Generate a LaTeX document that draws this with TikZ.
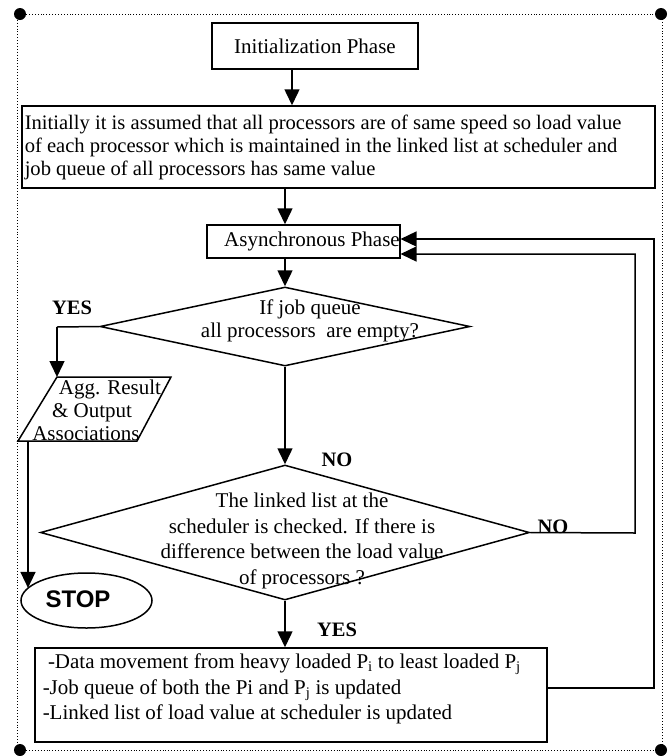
\documentclass[tikz,border=0pt]{standalone}
\usepackage{fontspec}
\setmainfont{Liberation Serif}
\newfontfamily\sansbold{Liberation Sans}
\usetikzlibrary{arrows.meta,shapes.geometric}
\begin{document}
\begin{tikzpicture}[x=1pt,y=-1pt,
  line width=1.5pt,
  arr/.style={-{Triangle[width=15pt,length=16pt]}},
  flowbox/.style={draw, rectangle, inner sep=0pt},
  maintext/.style={font=\fontsize{21}{23}\selectfont},
  lbl/.style={font=\fontsize{20.5}{23}\selectfont\bfseries, inner sep=0pt},
  decision/.style={draw, diamond, inner sep=0pt},
  framedot/.style={fill, circle, inner sep=0pt, minimum size=12pt}]
\useasboundingbox (0,0) rectangle (669,756);
% frame
\draw[line width=0.9pt, dotted] (17,14) rectangle (662,750);
\node[framedot] (d1) at (20,14) {};
\node[framedot] (d2) at (661,14) {};
\node[framedot] (d3) at (20,750) {};
\node[framedot] (d4) at (661,750) {};
% boxes
\node[flowbox, maintext, minimum width=206pt, minimum height=46pt] (init) at (315,46) {Initialization Phase};
\node[flowbox, minimum width=633pt, minimum height=82pt] (assume) at (338.5,147) {};
\node[maintext, font=\fontsize{20.6}{23}\selectfont, align=left, inner sep=0pt, anchor=west] (assumet) at (24,147)
  {Initially it is assumed that all processors are of same speed so load value\\of each processor which is maintained in the linked list at scheduler and\\job queue of all processors has same value};
\node[flowbox, maintext, minimum width=189pt, minimum height=33pt] (async) at (303.5,241.5) {\hspace*{17pt}Asynchronous Phase};
\node[decision, minimum width=370pt, minimum height=79pt] (dec1) at (285,326.5) {};
\node[maintext, align=center] (dec1t) at (310,321) {If job queue\\all processors\ \ are empty?};
% parallelogram
\coordinate (pTL) at (57,377);
\coordinate (pTR) at (171,377);
\coordinate (pBR) at (137,441);
\coordinate (pBL) at (18,441);
\draw (pTL) -- (pTR) -- (pBR) -- (pBL) -- cycle;
\coordinate (aggbot) at (28,441);
\node[maintext, align=center, inner sep=0pt] (agg) at (92,410) {\hspace*{36pt}Agg. Result\\ \& Output\\ Associations\hspace*{12pt}};
\node[draw, ellipse, minimum width=131pt, minimum height=55pt, inner sep=0pt] (stop) at (86.5,600.5) {};
\node[font=\fontsize{24}{26}\sansbold\bfseries, inner sep=0pt] (stopt) at (78,599) {STOP};
\node[decision, minimum width=489pt, minimum height=135pt] (dec2) at (285,532.5) {};
\node[maintext, align=center, font=\fontsize{21}{25.8}\selectfont] (dec2t) at (302,541) {The linked list at the\\scheduler is checked. If there is\\difference between the load value\\of processors ?};
\node[flowbox, minimum width=512pt, minimum height=94pt] (move) at (291,695) {};
\node[align=left, inner sep=0pt, anchor=west, font=\fontsize{21}{25.5}\selectfont] (movet) at (42,689)
  {\ -Data movement from heavy loaded P\textsubscript{i} to least loaded P\textsubscript{j}\\
   -Job queue of both the Pi and P\textsubscript{j} is updated\\
   -Linked list of load value at scheduler is updated};
% labels
\node[lbl] (yes1) at (72,308) {YES};
\node[lbl] (no1) at (337,460) {NO};
\node[lbl] (no2) at (553,527) {NO};
\node[lbl] (yes2) at (337,630) {YES};
% connectors
\coordinate (c1) at (292,69);
\draw[arr] (c1) -- (c1 |- assume.north);
\coordinate (c2) at (285,188);
\draw[arr] (c2) -- (c2 |- async.north);
\draw[arr] (c2 |- async.south) -- (dec1.north);
\coordinate (c3) at (57,327);
\draw (dec1.west) -- (c3);
\draw[arr] (c3) -- (pTL);
\draw[arr] (aggbot) -- (aggbot |- stop.168);
\draw[arr] (dec1.south) -- (dec2.north);
\draw[arr] (dec2.south) -- (dec2.south |- move.north);
\coordinate (c4) at (635,533);
\coordinate (c5) at (635,254);
\draw[arr] (dec2.east) -- (c4) -- (c5) -- (c5 -| async.east);
\coordinate (c6) at (654,688);
\coordinate (c7) at (654,239);
\draw[arr] (c6 -| move.east) -- (c6) -- (c7) -- (c7 -| async.east);
\end{tikzpicture}
\end{document}
